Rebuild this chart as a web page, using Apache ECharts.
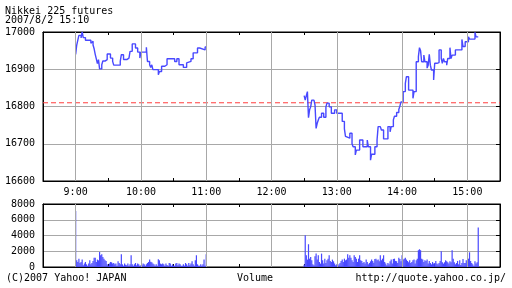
<!DOCTYPE html>
<html><head><meta charset="utf-8">
<script src="https://cdn.jsdelivr.net/npm/echarts@6/dist/echarts.min.js"></script>
<style>html,body{margin:0;padding:0;background:#fff}#c{width:512px;height:288px}</style>
</head><body><div id="c"></div>
<script>
const titleText = 'Nikkei 225 futures';
const dateText = '2007/8/2 15:10';
const footerLeft = '(C)2007 Yahoo! JAPAN';
const footerCenter = 'Volume';
const footerRight = 'http://quote.yahoo.co.jp/';
const hourLabels = ['9:00','10:00','11:00','12:00','13:00','14:00','15:00'];
const priceTicks = [16600, 17000, 100];
const volumeTicks = [0, 8000, 2000];
const prevClose = 16810;

// morning session: [minutes after 9:00, price]
const amPrice = [[0,16940],[1,16965],[2,16978],[3,16991],[5,16984],[6,17000],[7,16985],[9,16978],[14,16970],[15,16975],[16,16965],[17,16955],[18,16940],[19,16928],[20,16915],[21,16926],[22,16901],[24,16912],[25,16922],[27,16926],[29,16941],[32,16930],[34,16921],[35,16911],[41,16921],[42,16939],[44,16926],[47,16930],[49,16935],[50,16948],[52,16968],[55,16957],[57,16946],[59,16930],[60,16946],[65,16959],[66,16921],[68,16912],[69,16905],[70,16912],[71,16899],[76,16885],[77,16894],[79,16908],[82,16912],[84,16928],[91,16921],[93,16928],[95,16912],[99,16905],[102,16917],[103,16921],[106,16928],[108,16944],[112,16957],[114,16952],[119,16960],[120,16960]];
// afternoon session: [minutes after 12:30, price]
const pmPrice = [[0,16829],[1,16817],[2,16829],[3,16840],[4,16770],[5,16791],[6,16799],[7,16817],[9,16822],[10,16804],[11,16741],[12,16755],[13,16764],[14,16771],[16,16782],[18,16771],[20,16799],[21,16809],[23,16799],[25,16782],[28,16791],[30,16782],[35,16760],[37,16740],[38,16720],[39,16715],[42,16728],[44,16700],[45,16692],[47,16670],[48,16683],[51,16710],[54,16692],[58,16710],[59,16692],[61,16656],[62,16672],[65,16692],[67,16710],[68,16746],[70,16750],[71,16737],[73,16713],[77,16746],[79,16732],[80,16746],[82,16764],[83,16774],[85,16784],[87,16792],[88,16801],[89,16812],[91,16840],[93,16862],[94,16880],[96,16844],[100,16822],[101,16840],[103,16920],[105,16934],[106,16958],[107,16950],[108,16920],[110,16938],[111,16920],[113,16903],[114,16911],[115,16940],[116,16911],[117,16898],[119,16871],[120,16916],[122,16918],[124,16952],[126,16929],[127,16916],[128,16929],[129,16920],[131,16911],[132,16929],[134,16958],[135,16929],[136,16938],[139,16952],[145,16980],[146,16961],[148,16974],[151,16987],[152,16981],[157,16999],[158,16987],[160,16987]];
// per-minute volume from 9:00
const amVolume = [7100,850,640,1060,510,640,940,210,430,640,
 340,170,430,850,340,510,770,1190,1190,640,
 940,850,1900,1490,1620,1280,1060,850,770,340,
 170,430,640,600,430,510,340,430,170,720,
 510,340,1620,340,170,430,300,210,430,170,
 340,1490,340,170,340,510,210,430,340,170,
 210,210,430,340,170,340,510,640,940,680,
 600,430,340,170,340,170,980,850,430,340,
 430,340,170,430,255,170,510,430,170,340,
 170,170,430,510,210,430,340,170,170,340,
 170,510,340,170,510,210,430,720,340,170,
 850,1490,340,170,170,340,170,340,940,170,
 1620];
// per-minute volume from 12:30
const pmVolume = [300,4040,1490,940,2890,1060,1280,850,340,210,
 1360,1700,940,1490,640,430,1700,850,430,1060,
 510,850,1060,1490,770,640,940,720,430,210,
 340,170,340,510,770,940,640,1060,850,940,
 1620,1190,1490,1190,850,640,1490,1280,1060,640,
 1060,1490,850,770,510,640,430,940,640,340,
 510,720,940,770,550,1020,1060,850,940,720,
 1490,850,1060,1490,640,430,210,510,340,720,
 940,430,1020,1060,770,720,510,1190,1020,720,
 1490,940,1060,1190,940,770,600,850,510,640,
 850,940,430,850,1060,2130,2255,2130,1060,940,
 640,850,770,940,430,770,510,340,640,430,
 510,770,430,340,510,770,2000,600,430,600,
 850,720,600,430,720,600,2130,1060,600,340,
 510,770,340,850,255,510,1020,510,510,850,
 430,1060,1870,770,510,340,170,720,430,600,
 5020];

// x axis: minutes after 8:30
const AM0 = 30, PM0 = 240, XMAX = 420;
const FONT = "'DejaVu Sans Mono', monospace";
const BLUE = '#4848ff';
const GRID = '#a8a8a8';
const RED = '#ff3c3c';

const hourPos = hourLabels.map((_, i) => AM0 + i * 60);
const amLine = amPrice.map(d => [d[0] + AM0, d[1]]);
const pmLine = pmPrice.map(d => [d[0] + PM0, d[1]]);
const volData = amVolume.map((v, i) => [i + AM0, v]).concat(pmVolume.map((v, i) => [i + PM0, v]));
const prevLine = [[0, prevClose], [XMAX, prevClose]];

function xAxisDef(gridIndex, position, labels) {
  return {
    type: 'value', gridIndex, position, min: 0, max: XMAX, interval: 30,
    axisLine: { show: true, onZero: false, lineStyle: { color: '#000', width: 1 } },
    axisTick: { show: true, inside: true, length: 3, lineStyle: { color: '#000' } },
    axisLabel: labels ? {
      show: true, color: '#000', fontFamily: FONT, fontSize: 10, margin: 6,
      formatter: v => ((v - AM0) % 60 === 0 && v >= AM0) ? hourLabels[(v - AM0) / 60] : ''
    } : { show: false },
    splitLine: { show: false }
  };
}
function yAxisDef(gridIndex, position, t, labels) {
  return {
    type: 'value', gridIndex, position, min: t[0], max: t[1], interval: t[2],
    axisLine: { show: true, onZero: false, lineStyle: { color: '#000', width: 1 } },
    axisTick: labels ? { show: false } : { show: true, inside: true, length: 4, lineStyle: { color: '#000' } },
    axisLabel: labels ? { show: true, color: '#000', fontFamily: FONT, fontSize: 10, margin: 8, formatter: v => String(v) } : { show: false },
    splitLine: labels ? { show: true, lineStyle: { color: GRID, width: 1 } } : { show: false }
  };
}
function vGridSeries(xi, yi) {
  return {
    type: 'line', xAxisIndex: xi, yAxisIndex: yi, data: [], z: 1, silent: true,
    markLine: {
      silent: true, symbol: ['none', 'none'], label: { show: false }, animation: false,
      lineStyle: { color: GRID, type: 'solid', width: 1 },
      data: hourPos.map(x => ({ xAxis: x, lineStyle: { color: GRID, type: 'solid', width: 1 } }))
    }
  };
}

const chart = echarts.init(document.getElementById('c'), null, { renderer: 'canvas' });
chart.setOption({
  animation: false,
  backgroundColor: '#fff',
  grid: [
    { left: 43, right: 12, top: 32, height: 149, containLabel: false, outerBoundsMode: 'none', show: true, borderColor: '#000', borderWidth: 1, backgroundColor: 'transparent' },
    { left: 43, right: 12, top: 204, height: 63, containLabel: false, outerBoundsMode: 'none', show: true, borderColor: '#000', borderWidth: 1, backgroundColor: 'transparent' }
  ],
  xAxis: [xAxisDef(0, 'bottom', true), xAxisDef(0, 'top', false), xAxisDef(1, 'bottom', false), xAxisDef(1, 'top', false)],
  yAxis: [yAxisDef(0, 'left', priceTicks, true), yAxisDef(0, 'right', priceTicks, false), yAxisDef(1, 'left', volumeTicks, true), yAxisDef(1, 'right', volumeTicks, false)],
  series: [
    vGridSeries(0, 0),
    vGridSeries(2, 2),
    { type: 'line', xAxisIndex: 0, yAxisIndex: 0, data: prevLine, showSymbol: false, symbol: 'none', z: 2, silent: true,
      lineStyle: { color: RED, type: [5, 3], width: 1 } },
    { type: 'line', xAxisIndex: 0, yAxisIndex: 0, data: amLine, step: 'end', showSymbol: false, symbol: 'none', z: 3,
      lineStyle: { color: BLUE, width: 1.4 } },
    { type: 'line', xAxisIndex: 0, yAxisIndex: 0, data: pmLine, step: 'end', showSymbol: false, symbol: 'none', z: 3,
      lineStyle: { color: BLUE, width: 1.4 } },
    { type: 'bar', xAxisIndex: 2, yAxisIndex: 2, data: volData, barWidth: 1.2, z: 3,
      itemStyle: { color: BLUE } }
  ],
  graphic: [
    { type: 'text', x: 5, y: 11, style: { text: titleText, font: '10px ' + FONT, fill: '#000', verticalAlign: 'middle' } },
    { type: 'text', x: 5, y: 20.5, style: { text: dateText, font: '10px ' + FONT, fill: '#000', verticalAlign: 'middle' } },
    { type: 'text', x: 6, y: 278, style: { text: footerLeft, font: '10px ' + FONT, fill: '#000', verticalAlign: 'middle' } },
    { type: 'text', x: 237, y: 278, style: { text: footerCenter, font: '10px ' + FONT, fill: '#000', verticalAlign: 'middle' } },
    { type: 'text', x: 506, y: 278, style: { text: footerRight, font: '10px ' + FONT, fill: '#000', verticalAlign: 'middle', align: 'right' } }
  ]
});
</script></body></html>
